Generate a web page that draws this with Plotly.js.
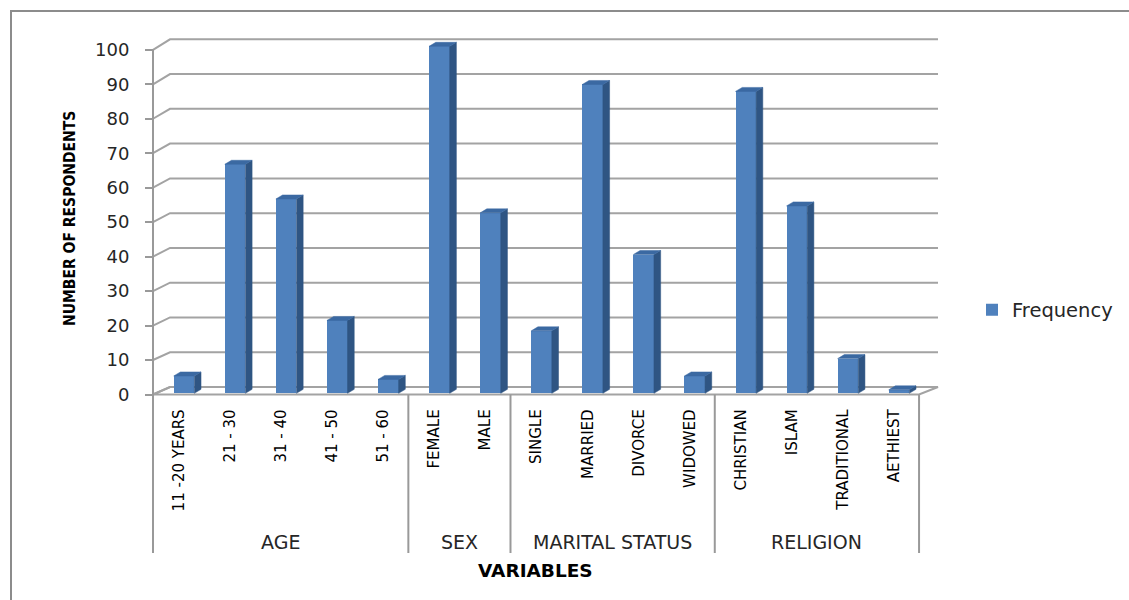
<!DOCTYPE html>
<html>
<head>
<meta charset="utf-8">
<script src="https://cdn.plot.ly/plotly-3.0.1.min.js"></script>
<style>
  html, body { margin: 0; padding: 0; background: #ffffff; }
  #chart { width: 1129px; height: 600px; }
</style>
</head>
<body>
<div id="chart"></div>
<script>
// ---- data ----
const categories = ['11 -20 YEARS', '21 - 30', '31 - 40', '41 - 50', '51 - 60',
                    'FEMALE', 'MALE',
                    'SINGLE', 'MARRIED', 'DIVORCE', 'WIDOWED',
                    'CHRISTIAN', 'ISLAM', 'TRADITIONAL', 'AETHIEST'];
const frequency = [5, 66, 56, 21, 4, 100, 52, 18, 89, 40, 5, 87, 54, 10, 1];
const groupNames = ['AGE', 'SEX', 'MARITAL STATUS', 'RELIGION'];
const groupSizes = [5, 2, 4, 4];
const yTickValues = [0, 10, 20, 30, 40, 50, 60, 70, 80, 90, 100];
const seriesName = 'Frequency';

// ---- page geometry (pixels) ----
const W = 1129, H = 600;
const L = 140, R = 1125, T = 28, B = 405;         // plot area (legend sits inside it, right of the box)
// three depth planes of the pseudo-3D box: front (axes), bar faces, back wall
const front = { x0: 153, ux: 51.07, y0: 394.5, uy: 3.447 };
const bars  = { x0: 158.5, ux: 51.07, y0: 393.3, uy: 3.47 };
const back  = { x0: 170, ux: 51.2, y0: 387, uy: 3.477 };
const barW = 0.403;                 // bar width in category units
const sideDx = 6.7, sideDy = 4;     // bar depth in pixels

const nCat = categories.length;
const px2paperX = px => (px - L) / (R - L);
const px2paperY = py => (B - py) / (B - T);
const xRange = p => [(L - p.x0) / p.ux, (R - p.x0) / p.ux];
const yRange = p => [(p.y0 - B) / p.uy, (p.y0 - T) / p.uy];
// back-wall point expressed in front-plane axis units
const backToFrontX = u => (back.x0 + back.ux * u - front.x0) / front.ux;
const backToFrontY = v => (front.y0 - (back.y0 - back.uy * v)) / front.uy;

const narrow = 'Liberation Sans Narrow, DejaVu Sans Condensed, sans-serif';
const gridColor = '#a3a3a3';
const traces = [];

// floor of the box
traces.push({
  type: 'scatter', mode: 'lines', xaxis: 'x', yaxis: 'y', hoverinfo: 'skip', showlegend: false,
  x: [0, nCat, backToFrontX(nCat), backToFrontX(0), 0],
  y: [0, 0, backToFrontY(0), backToFrontY(0), 0],
  fill: 'toself', fillcolor: '#ffffff', line: { color: gridColor, width: 2 }
});

// back-wall gridlines with their diagonal links to the value axis
const gx = [], gy = [];
yTickValues.forEach(v => {
  gx.push(0, backToFrontX(0), backToFrontX(nCat), null);
  gy.push(v, backToFrontY(v), backToFrontY(v), null);
});
traces.push({
  type: 'scatter', mode: 'lines', xaxis: 'x', yaxis: 'y', hoverinfo: 'skip', showlegend: false,
  x: gx, y: gy, line: { color: gridColor, width: 2 }
});

// column front faces
const centers = categories.map((c, i) => i + 0.5);
traces.push({
  type: 'bar', name: seriesName, xaxis: 'x2', yaxis: 'y2',
  x: centers, y: frequency, width: barW, textposition: 'none',
  customdata: categories,
  marker: { color: '#4f81bd', line: { width: 0 } },
  hovertemplate: '%{customdata}: %{y}<extra></extra>'
});

// column side and top faces
const dxu = sideDx / bars.ux, dyu = sideDy / bars.uy;
const sx = [], sy = [], tx = [], ty = [];
frequency.forEach((v, i) => {
  const xl = centers[i] - barW / 2, xr = centers[i] + barW / 2;
  sx.push(xr, xr + dxu, xr + dxu, xr, xr, null);
  sy.push(0, dyu, v + dyu, v, 0, null);
  tx.push(xl, xl + dxu, xr + dxu, xr, xl, null);
  ty.push(v, v + dyu, v + dyu, v, v, null);
});
traces.push({
  type: 'scatter', mode: 'lines', xaxis: 'x2', yaxis: 'y2', hoverinfo: 'skip', showlegend: false,
  x: sx, y: sy, fill: 'toself', fillcolor: '#2f5583', line: { color: '#2f5583', width: 0.5 }
});
traces.push({
  type: 'scatter', mode: 'lines', xaxis: 'x2', yaxis: 'y2', hoverinfo: 'skip', showlegend: false,
  x: tx, y: ty, fill: 'toself', fillcolor: '#3b69a2', line: { color: '#3b69a2', width: 0.5 }
});

// ---- category group dividers, axis line, labels ----
const shapes = [];
const annotations = [];
const axisBottom = 553;
shapes.push({ type: 'line', xref: 'paper', yref: 'paper', layer: 'above',
  x0: px2paperX(front.x0), x1: px2paperX(front.x0),
  y0: px2paperY(front.y0 - front.uy * 100), y1: px2paperY(axisBottom),
  line: { color: '#999999', width: 2 } });
let start = 0;
groupNames.forEach((g, k) => {
  const end = start + groupSizes[k];
  const xpx = front.x0 + front.ux * end;
  shapes.push({ type: 'line', xref: 'paper', yref: 'paper',
    x0: px2paperX(xpx), x1: px2paperX(xpx),
    y0: px2paperY(front.y0), y1: px2paperY(axisBottom),
    line: { color: '#999999', width: 2 } });
  annotations.push({ xref: 'x', yref: 'paper', x: (start + end) / 2, y: px2paperY(542),
    text: g, showarrow: false, xanchor: 'center', yanchor: 'middle',
    font: { family: 'DejaVu Sans', size: 19, color: '#262626' } });
  start = end;
});

// chart frame
shapes.push({ type: 'rect', xref: 'paper', yref: 'paper', layer: 'below',
  x0: px2paperX(11), x1: px2paperX(W + 20), y0: px2paperY(11), y1: px2paperY(H + 20),
  line: { color: '#8c8c8c', width: 2 }, fillcolor: 'rgba(0,0,0,0)' });

// axis titles
annotations.push({ xref: 'paper', yref: 'paper', x: px2paperX(70), y: px2paperY(219),
  text: 'NUMBER OF RESPONDENTS', textangle: -90, showarrow: false,
  xanchor: 'center', yanchor: 'middle',
  font: { family: narrow, size: 15.5, color: '#000000', weight: 'bold' } });
annotations.push({ xref: 'paper', yref: 'paper', x: px2paperX(535), y: px2paperY(570),
  text: 'VARIABLES', showarrow: false, xanchor: 'center', yanchor: 'middle',
  font: { family: 'DejaVu Sans', size: 18.5, color: '#000000', weight: 'bold' } });

const layout = {
  width: W, height: H,
  margin: { l: L, r: W - R, t: T, b: H - B, pad: 0 },
  paper_bgcolor: '#ffffff', plot_bgcolor: 'rgba(0,0,0,0)',
  showlegend: true,
  legend: { x: px2paperX(972), y: px2paperY(310), xanchor: 'left', yanchor: 'middle',
    itemwidth: 30,
    font: { family: 'DejaVu Sans', size: 19.5, color: '#262626' }, bgcolor: 'rgba(0,0,0,0)' },
  xaxis: { range: xRange(front), showgrid: false, zeroline: false, showline: false,
    tickmode: 'array', tickvals: centers, ticktext: categories, tickangle: -90,
    ticks: '', ticklabelstandoff: 0,
    tickfont: { family: narrow, size: 16.7, color: '#000000' },
    fixedrange: true },
  yaxis: { range: yRange(front), anchor: 'free', position: px2paperX(front.x0),
    showgrid: false, zeroline: false, showline: false,
    tickmode: 'array', tickvals: yTickValues, ticks: 'outside', ticklen: 8, tickwidth: 2, tickcolor: '#999999',
    ticklabelstandoff: 12,
    tickfont: { family: 'DejaVu Sans', size: 18, color: '#262626' }, fixedrange: true },
  xaxis2: { range: xRange(bars), overlaying: 'x', anchor: 'y2', visible: false, fixedrange: true },
  yaxis2: { range: yRange(bars), overlaying: 'y', anchor: 'x2', visible: false, fixedrange: true },
  shapes: shapes,
  annotations: annotations,
  bargap: 0
};

Plotly.newPlot('chart', traces, layout, { displayModeBar: false, staticPlot: true });
</script>
</body>
</html>
